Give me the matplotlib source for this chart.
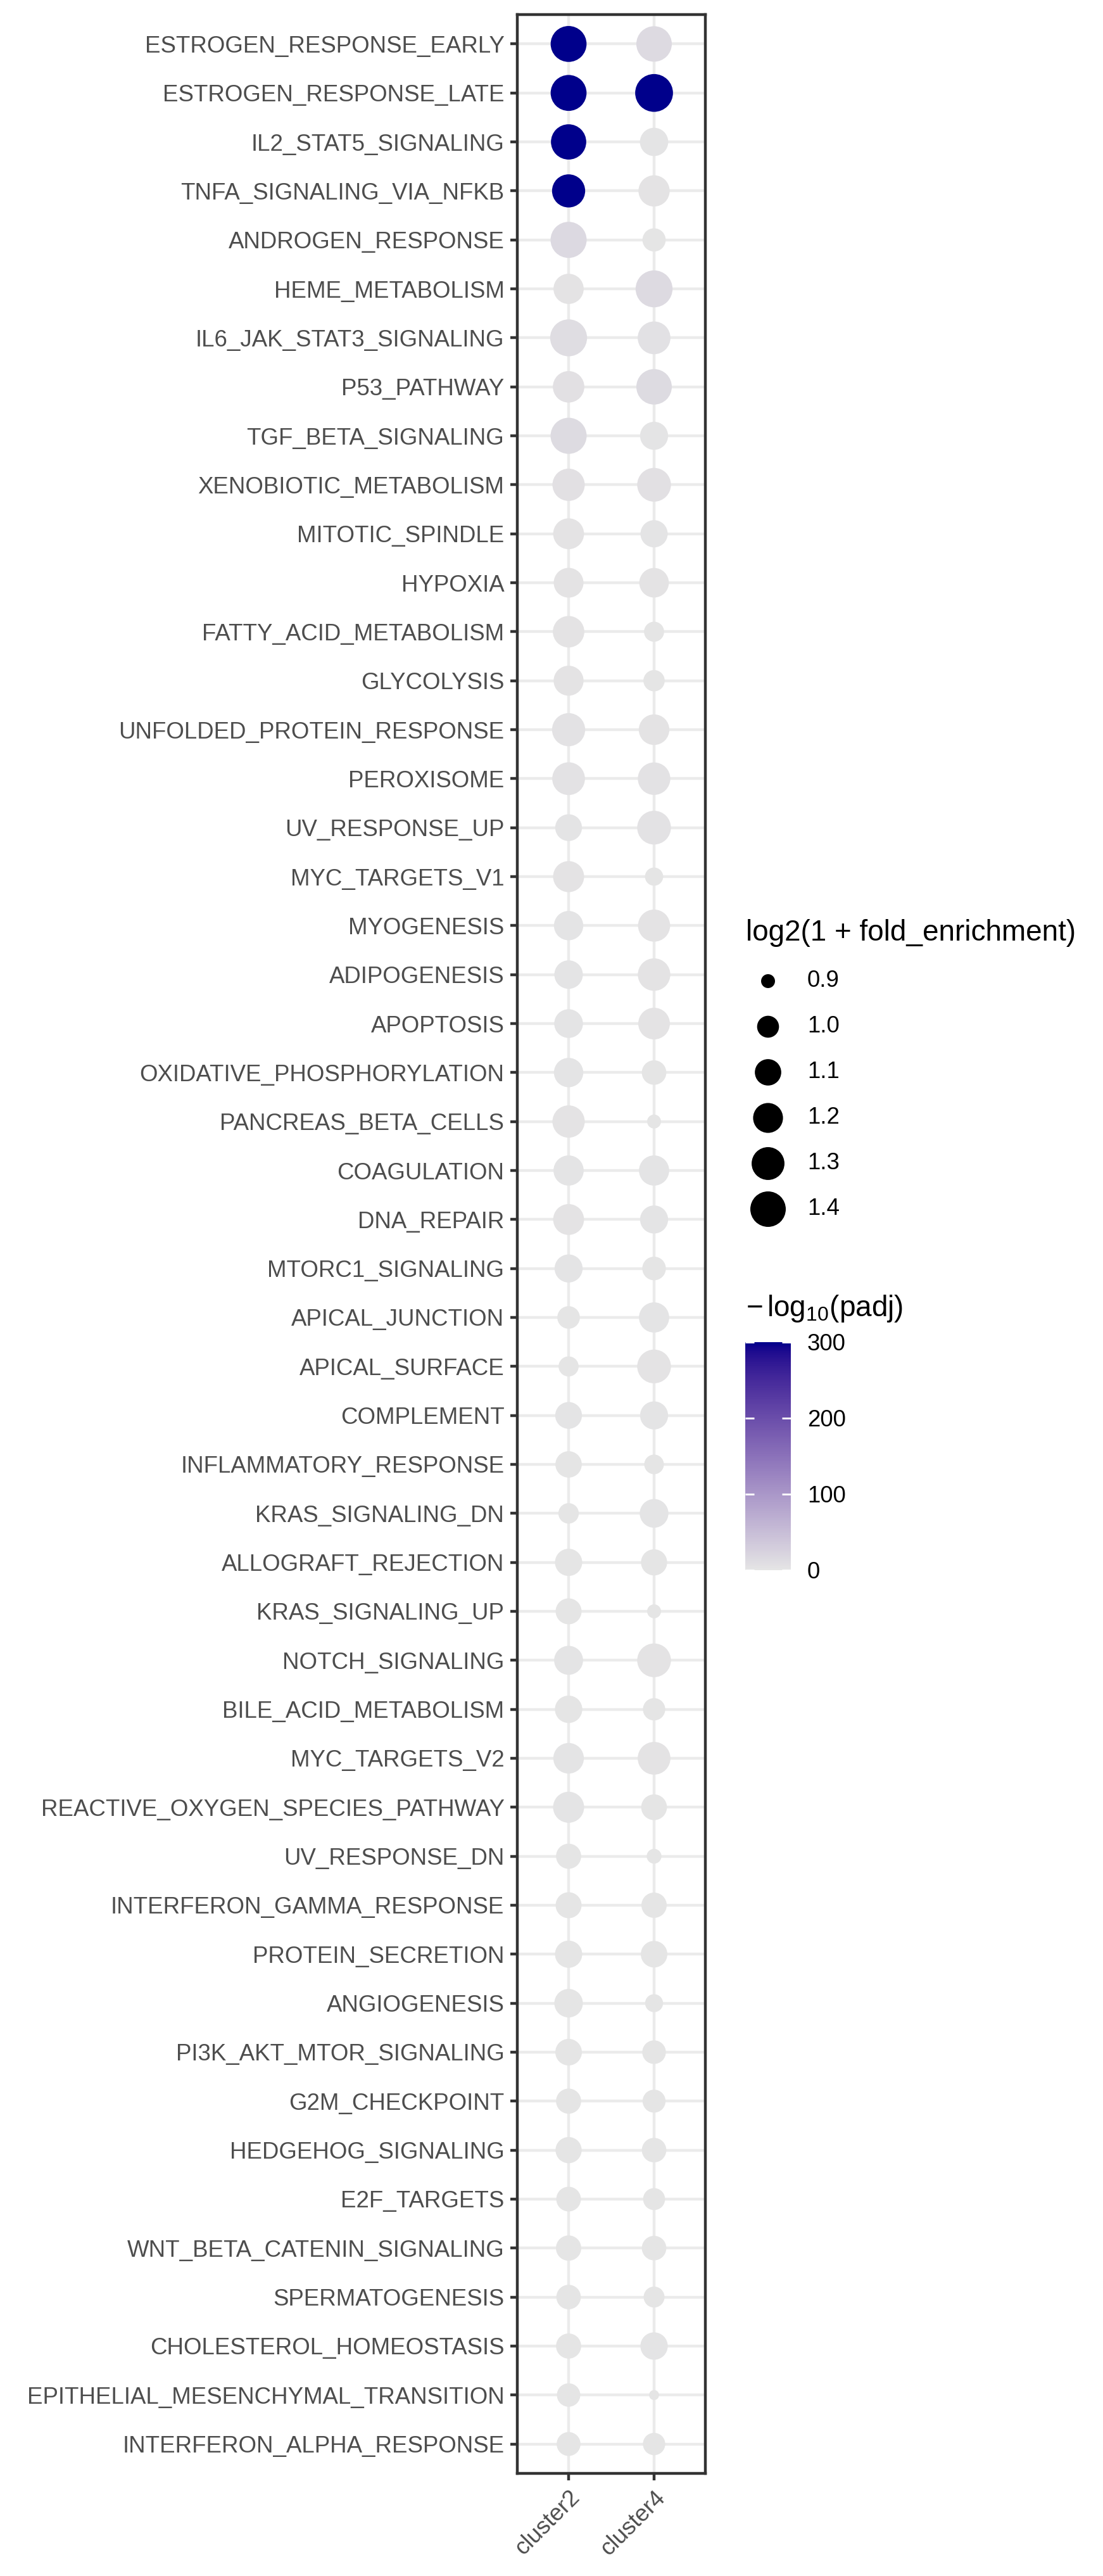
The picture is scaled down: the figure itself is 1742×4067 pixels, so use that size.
import numpy as np
import matplotlib
matplotlib.use("Agg")
import matplotlib.pyplot as plt
from matplotlib.colors import ListedColormap, Normalize
from matplotlib.colorbar import ColorbarBase

plt.rcParams['font.family'] = ['Liberation Sans', 'DejaVu Sans']
plt.rcParams['mathtext.fontset'] = 'custom'
plt.rcParams['mathtext.rm'] = 'Liberation Sans'
plt.rcParams['mathtext.it'] = 'Liberation Sans:italic'

# pathways, top to bottom
pathways = [
    "ESTROGEN_RESPONSE_EARLY", "ESTROGEN_RESPONSE_LATE", "IL2_STAT5_SIGNALING",
    "TNFA_SIGNALING_VIA_NFKB", "ANDROGEN_RESPONSE", "HEME_METABOLISM",
    "IL6_JAK_STAT3_SIGNALING", "P53_PATHWAY", "TGF_BETA_SIGNALING",
    "XENOBIOTIC_METABOLISM", "MITOTIC_SPINDLE", "HYPOXIA",
    "FATTY_ACID_METABOLISM", "GLYCOLYSIS", "UNFOLDED_PROTEIN_RESPONSE",
    "PEROXISOME", "UV_RESPONSE_UP", "MYC_TARGETS_V1", "MYOGENESIS",
    "ADIPOGENESIS", "APOPTOSIS", "OXIDATIVE_PHOSPHORYLATION",
    "PANCREAS_BETA_CELLS", "COAGULATION", "DNA_REPAIR", "MTORC1_SIGNALING",
    "APICAL_JUNCTION", "APICAL_SURFACE", "COMPLEMENT", "INFLAMMATORY_RESPONSE",
    "KRAS_SIGNALING_DN", "ALLOGRAFT_REJECTION", "KRAS_SIGNALING_UP",
    "NOTCH_SIGNALING", "BILE_ACID_METABOLISM", "MYC_TARGETS_V2",
    "REACTIVE_OXYGEN_SPECIES_PATHWAY", "UV_RESPONSE_DN",
    "INTERFERON_GAMMA_RESPONSE", "PROTEIN_SECRETION", "ANGIOGENESIS",
    "PI3K_AKT_MTOR_SIGNALING", "G2M_CHECKPOINT", "HEDGEHOG_SIGNALING",
    "E2F_TARGETS", "WNT_BETA_CATENIN_SIGNALING", "SPERMATOGENESIS",
    "CHOLESTEROL_HOMEOSTASIS", "EPITHELIAL_MESENCHYMAL_TRANSITION",
    "INTERFERON_ALPHA_RESPONSE",
]
clusters = ["cluster2", "cluster4"]

# log2(1 + fold_enrichment)
fe_c2 = [1.418, 1.418, 1.392, 1.310, 1.425, 1.210, 1.460, 1.252, 1.425, 1.280,
         1.231, 1.196, 1.252, 1.202, 1.310, 1.296, 1.110, 1.237, 1.183, 1.158,
         1.164, 1.183, 1.280, 1.210, 1.231, 1.145, 1.013, 0.968, 1.110, 1.100,
         0.974, 1.122, 1.089, 1.171, 1.127, 1.222, 1.237, 1.069, 1.089, 1.122,
         1.158, 1.105, 1.069, 1.094, 1.058, 1.073, 1.054, 1.069, 1.030, 1.040]
fe_c4 = [1.400, 1.498, 1.152, 1.243, 1.026, 1.460, 1.296, 1.400, 1.145, 1.333,
         1.122, 1.190, 0.968, 0.989, 1.222, 1.287, 1.333, 0.941, 1.274, 1.287,
         1.258, 1.054, 0.900, 1.210, 1.145, 1.034, 1.210, 1.333, 1.145, 0.961,
         1.164, 1.094, 0.900, 1.333, 1.008, 1.296, 1.084, 0.906, 1.073, 1.105,
         0.938, 1.034, 1.021, 1.054, 1.001, 1.054, 0.982, 1.127, 0.888, 1.008]

# -log10(padj)
p_c2 = [300, 300, 300, 300, 16, 3, 10, 7, 14, 6,
        3, 3, 3, 3, 4, 4, 2, 3, 2, 2,
        2, 2, 3, 2, 3, 2, 1, 1, 2, 1,
        1, 1, 1, 2, 1, 2, 2, 1, 1, 1,
        1, 1, 1, 1, 1, 1, 1, 1, 1, 1]
p_c4 = [15, 300, 2, 3, 1, 15, 5, 14, 2, 6,
        2, 3, 1, 1, 3, 4, 4, 1, 3, 3,
        3, 1, 1, 2, 2, 1, 2, 3, 2, 1,
        2, 1, 1, 3, 1, 3, 1, 1, 1, 1,
        1, 1, 1, 1, 1, 1, 1, 2, 1, 1]

size_breaks = [0.9, 1.0, 1.1, 1.2, 1.3, 1.4]
color_breaks = [0, 100, 200, 300]

W, H, DPI = 1742, 4067, 300


def dot_size(v):
    # diameter in px, area-style scale, returned as scatter s (pt^2)
    d_px = 15.8 + 56.2 * np.sqrt(np.clip(np.asarray(v, float) - 0.888, 0, None))
    return (d_px * 72 / DPI) ** 2


# Lab gradient grey90 -> darkblue, like ggplot
def srgb_to_lab(rgb):
    rgb = np.asarray(rgb, float)
    lin = np.where(rgb <= 0.04045, rgb / 12.92, ((rgb + 0.055) / 1.055) ** 2.4)
    M = np.array([[0.4124, 0.3576, 0.1805],
                  [0.2126, 0.7152, 0.0722],
                  [0.0193, 0.1192, 0.9505]])
    xyz = lin @ M.T / np.array([0.95047, 1.0, 1.08883])
    f = np.where(xyz > 0.008856, np.cbrt(xyz), 7.787 * xyz + 16 / 116)
    return np.stack([116 * f[..., 1] - 16, 500 * (f[..., 0] - f[..., 1]),
                     200 * (f[..., 1] - f[..., 2])], -1)


def lab_to_srgb(lab):
    lab = np.asarray(lab, float)
    fy = (lab[..., 0] + 16) / 116
    fx = fy + lab[..., 1] / 500
    fz = fy - lab[..., 2] / 200
    f = np.stack([fx, fy, fz], -1)
    xyz = np.where(f ** 3 > 0.008856, f ** 3, (f - 16 / 116) / 7.787)
    xyz = xyz * np.array([0.95047, 1.0, 1.08883])
    Minv = np.array([[3.2406, -1.5372, -0.4986],
                     [-0.9689, 1.8758, 0.0415],
                     [0.0557, -0.2040, 1.0570]])
    lin = xyz @ Minv.T
    rgb = np.where(lin <= 0.0031308, 12.92 * lin, 1.055 * np.clip(lin, 0, None) ** (1 / 2.4) - 0.055)
    return np.clip(rgb, 0, 1)


lo = srgb_to_lab(np.array([229, 229, 229]) / 255)
hi = srgb_to_lab(np.array([0, 0, 139]) / 255)
t = np.linspace(0, 1, 256)[:, None]
cmap = ListedColormap(lab_to_srgb(lo + (hi - lo) * t))
norm = Normalize(0, 300)

fig = plt.figure(figsize=(W / DPI, H / DPI), dpi=DPI)
ax = fig.add_axes([817 / W, 1 - 3905 / H, (1114 - 817) / W, (3905 - 23) / H])

y = np.arange(len(pathways))
for i, (fe, pv) in enumerate([(fe_c2, p_c2), (fe_c4, p_c4)]):
    ax.scatter(np.full(len(y), i), y, s=dot_size(fe), c=pv, cmap=cmap, norm=norm,
               linewidths=0, zorder=3)

ax.set_xlim(-0.6, 1.6)
ax.set_ylim(len(pathways) - 1 + 0.6, -0.6)
ax.set_xticks([0, 1])
ax.set_xticklabels(clusters, rotation=45, ha='right', va='top', rotation_mode='anchor')
ax.set_yticks(y)
ax.set_yticklabels(pathways)
ax.grid(True, color='#EBEBEB', lw=1.07, zorder=0)
ax.set_axisbelow(True)
ax.tick_params(length=2.75, width=1.07, color='#333333', labelsize=8.8,
               labelcolor='#4D4D4D', pad=2.2)
for sp in ax.spines.values():
    sp.set_color('#333333')
    sp.set_linewidth(1.07)

# legends, drawn in pixel coordinates
lg = fig.add_axes([0, 0, 1, 1], zorder=5)
lg.set_xlim(0, W)
lg.set_ylim(H, 0)
lg.axis('off')
lg.text(1178, 1473, "log2(1 + fold_enrichment)", fontsize=11, va='center', ha='left')
ys = 1549 + 72 * np.arange(len(size_breaks))
lg.scatter(np.full(len(ys), 1213), ys, s=dot_size(size_breaks), c='black', linewidths=0)
for yy, b in zip(ys, size_breaks):
    lg.text(1275, yy, f"{b:.1f}", fontsize=8.8, va='center', ha='left')

lg.text(1178, 2066, r"$-\,\mathrm{log}_{10}(\mathrm{padj})$", fontsize=11, va='center', ha='left')
cax = fig.add_axes([1177 / W, 1 - 2479 / H, 72 / W, 360 / H])
cb = ColorbarBase(cax, cmap=cmap, norm=norm, ticks=color_breaks)
cb.outline.set_visible(False)
cax.tick_params(direction='in', length=3.4, width=0.7, color='white', left=True, right=True,
                labelsize=8.8, pad=6.2)

fig.savefig("out.png", dpi=DPI)
